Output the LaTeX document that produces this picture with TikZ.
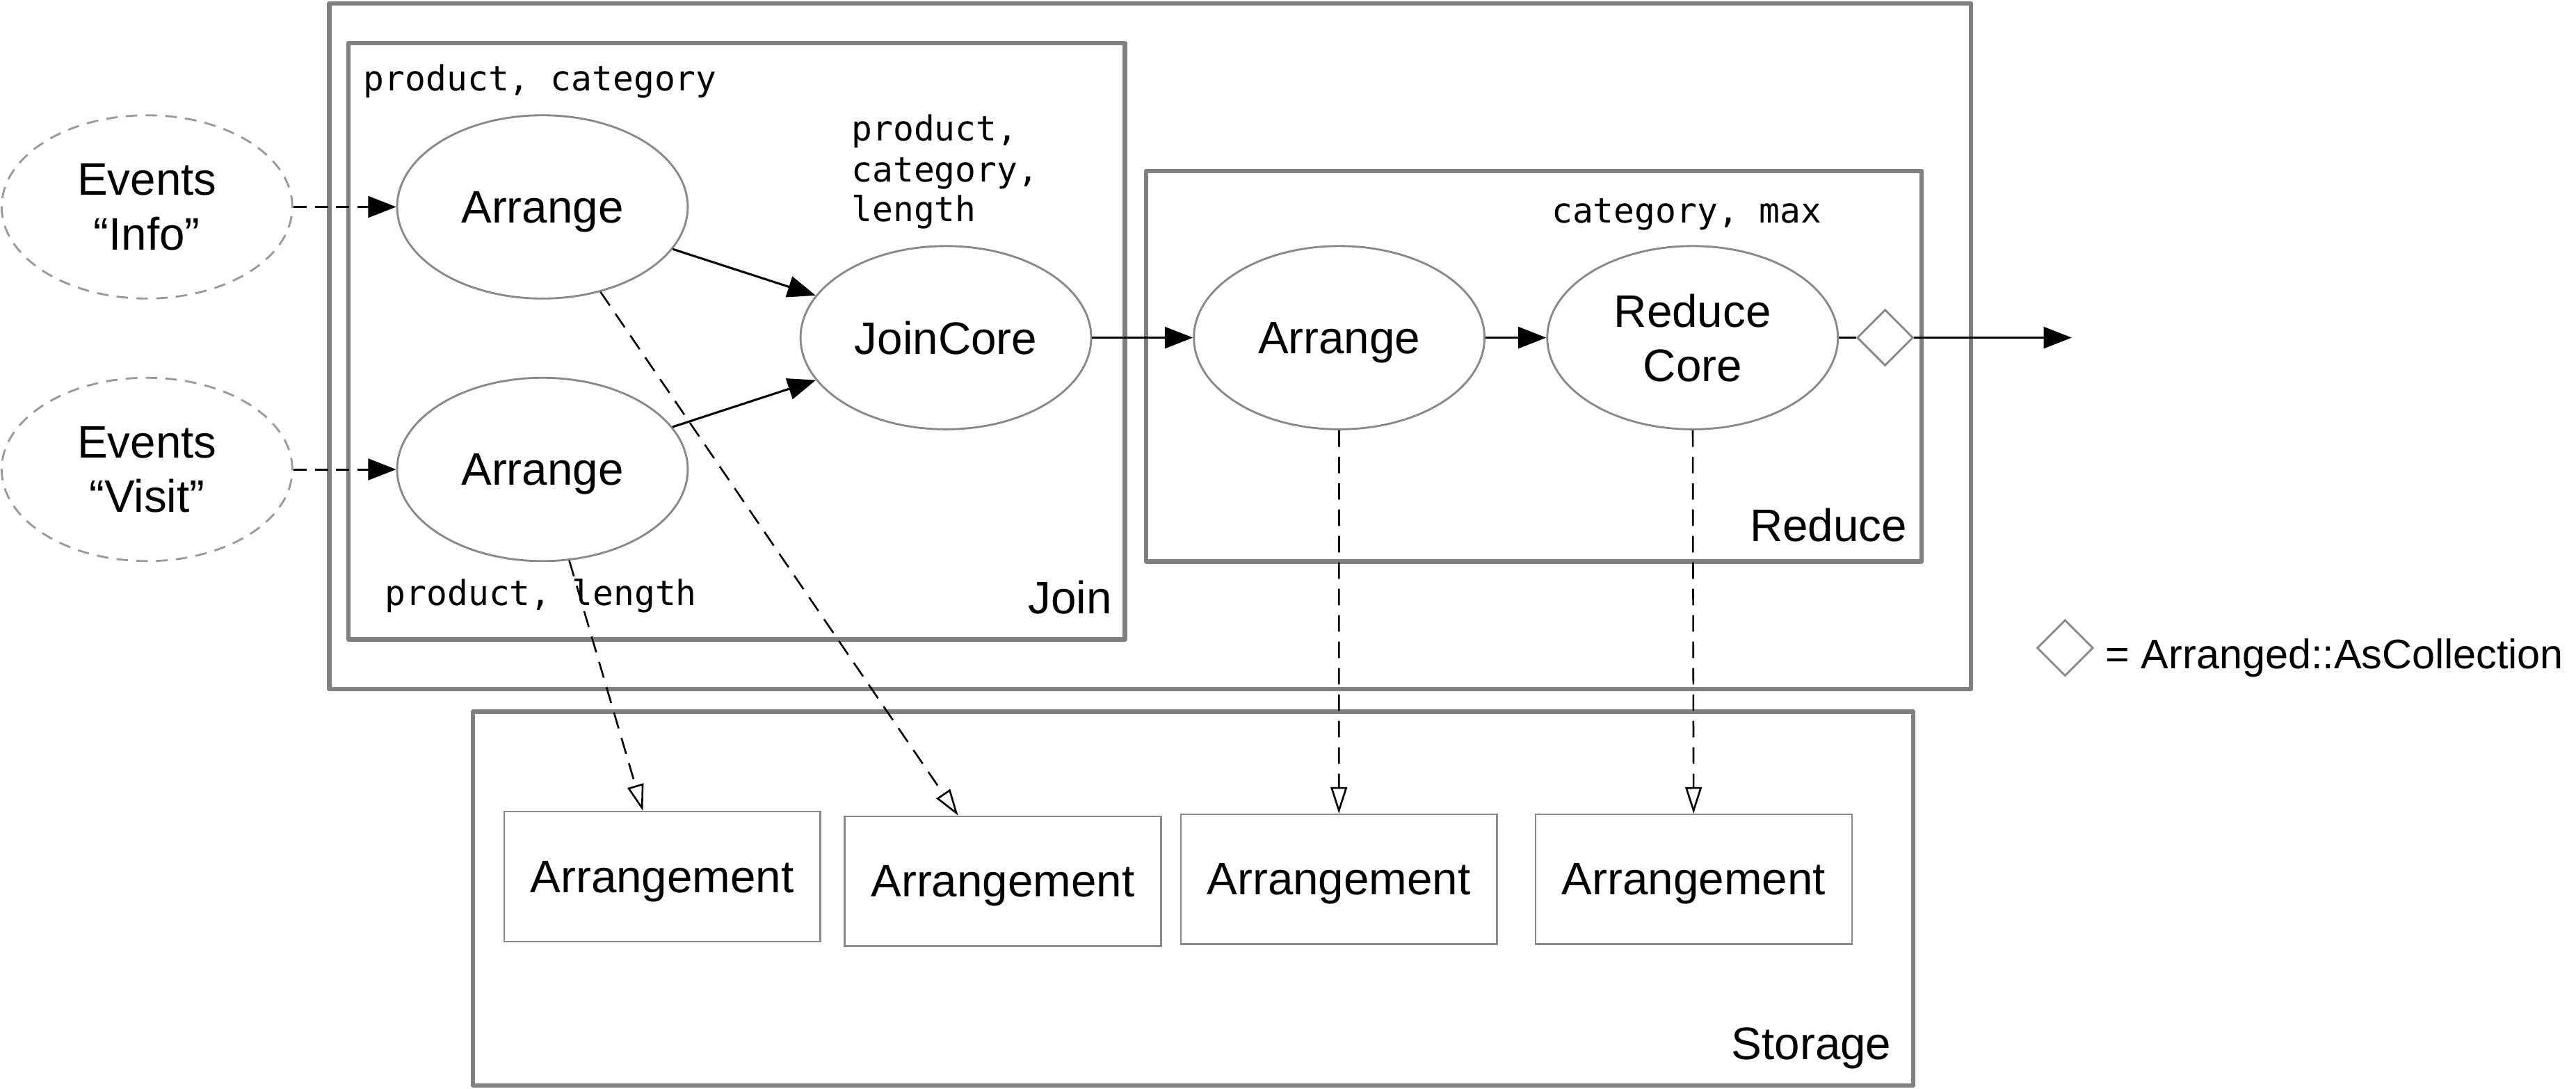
\documentclass[tikz,border=0pt]{standalone}
\usepackage{fontspec}
\setmainfont{Liberation Sans}
\newfontfamily\monof{DejaVu Sans Mono}
\usetikzlibrary{arrows.meta,shapes.geometric}
\definecolor{boxgray}{HTML}{808080}
\definecolor{elgray}{HTML}{888888}
\definecolor{evgray}{HTML}{999999}
\begin{document}
\begin{tikzpicture}[x=1pt,y=-1pt,
  container/.style={draw=boxgray,line width=2.7pt,line join=round},
  op/.style={ellipse,draw=elgray,line width=1.2pt,minimum width=176pt,minimum height=111pt,inner sep=0pt,font=\fontsize{27.6}{33}\selectfont,align=center,text depth=0pt},
  src/.style={op,draw=evgray,dash pattern=on 7pt off 5pt},
  store/.style={rectangle,draw=elgray,line width=1pt,minimum width=191.5pt,minimum height=78.6pt,inner sep=0pt,font=\fontsize{27.6}{33}\selectfont,text depth=0pt},
  lbl/.style={font=\fontsize{27.6}{33}\selectfont,inner sep=0pt},
  mono/.style={font=\monof\fontsize{20.9}{24.5}\selectfont,inner sep=0pt,anchor=base west},
  flow/.style={draw=black,line width=1.3pt,-{Triangle[length=17pt,width=13pt]}},
  feed/.style={flow,dash pattern=on 8pt off 5pt},
  persist/.style={draw=black,line width=1.1pt,dash pattern=on 10pt off 6pt,-{Triangle[open,length=16pt,width=10pt,line width=1.1pt]}},
  coll/.style={diamond,draw=elgray,line width=1.2pt,minimum width=34pt,minimum height=34pt,inner sep=0pt}
]
\useasboundingbox (0,0) rectangle (1560,659.5);
% containers
\draw[container] (199.5,2) rectangle (1193.6,417.3);
\draw[container] (211,26) rectangle (681.3,387.3);
\draw[container] (694,103.5) rectangle (1163.7,340);
\draw[container] (286.4,431) rectangle (1158.6,657.4);
% container labels
\node[lbl,anchor=base east] (joinlbl) at (673.5,371.5) {Join};
\node[lbl,anchor=base east] (redlbl) at (1155,328) {Reduce};
\node[lbl,anchor=base east] (storlbl) at (1145.5,641.7) {Storage};
% mono labels
\node[mono] (k1) at (220,55) {product, category};
\node[mono] (k2a) at (515.5,85.4) {product,};
\node[mono] (k2b) at (515.5,110) {category,};
\node[mono] (k2c) at (515.5,134.3) {length};
\node[mono] (k3) at (939.5,134.8) {category, max};
\node[mono] (k4) at (233,366.6) {product, length};
% operators
\node[src] (evi) at (89,125.3) {Events\\“Info”};
\node[src] (evv) at (89,284.3) {Events\\“Visit”};
\node[op] (a1) at (328.5,125.3) {Arrange};
\node[op] (a2) at (328.5,284.3) {Arrange};
\node[op] (jc) at (572.8,204.5) {JoinCore};
\node[op] (a3) at (811,204.5) {Arrange};
\node[op] (rc) at (1025,204.5) {Reduce\\Core};
\node[coll] (d) at (1141.6,204.5) {};
\coordinate (out) at (1254.6,204.5);
% storage
\node[store] (b1) at (401,530.9) {Arrangement};
\node[store] (b2) at (607.3,533.7) {Arrangement};
\node[store] (b3) at (810.8,532.5) {Arrangement};
\node[store] (b4) at (1025.7,532.5) {Arrangement};
% edges
\draw[feed] (evi) -- (a1);
\draw[feed] (evv) -- (a2);
\draw[flow] (a1) -- (jc);
\draw[flow] (a2) -- (jc);
\draw[flow] (jc) -- (a3);
\draw[flow] (a3) -- (rc);
\draw[draw=black,line width=1.3pt] (rc) -- (d);
\draw[flow] (d) -- (out);
\draw[persist] (a1) -- (b2);
\draw[persist] (a2) -- (b1);
\draw[persist] (a3) -- (b3);
\draw[persist] (rc) -- (b4);
% legend
\node[coll] (key) at (1250.6,392.4) {};
\node[font=\fontsize{25}{30}\selectfont,inner sep=0pt,anchor=base west] (keytxt) at (1275,405) {= Arranged::AsCollection};
\end{tikzpicture}
\end{document}
